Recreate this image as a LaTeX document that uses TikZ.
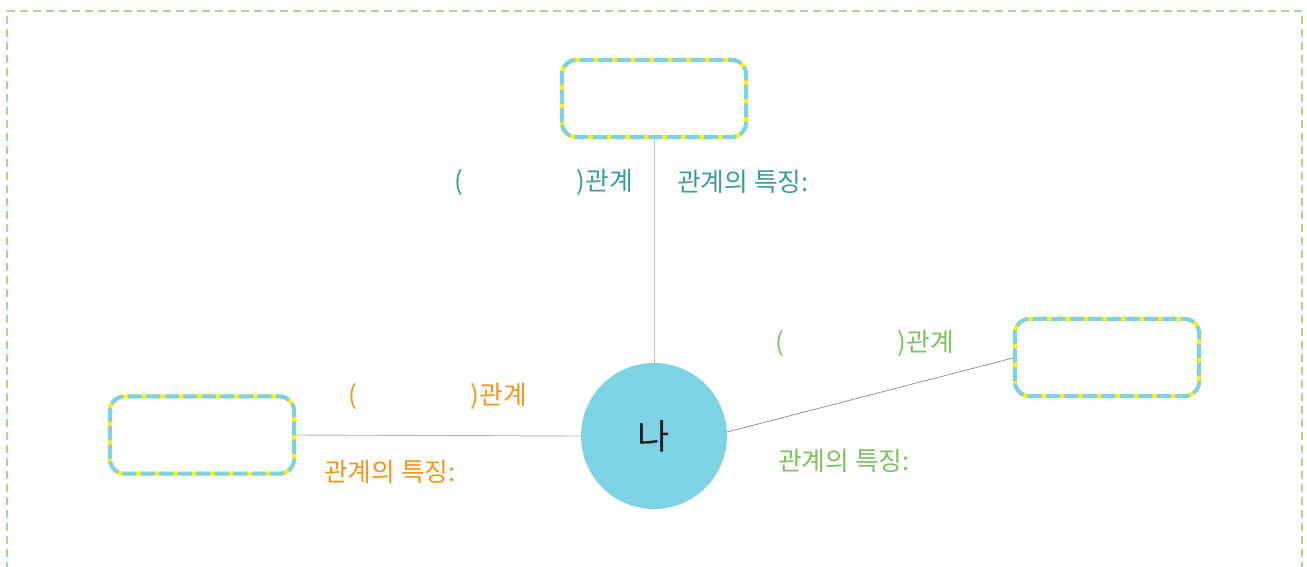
\documentclass[tikz,border=0pt]{standalone}
\usepackage{fontspec}
\setmainfont{Noto Sans CJK KR}
\definecolor{tealtxt}{HTML}{3A9E9E}
\definecolor{orangetxt}{HTML}{F7941D}
\definecolor{greentxt}{HTML}{7DC25C}
\definecolor{boxblue}{HTML}{7DD3E3}
\definecolor{boxyellow}{HTML}{FFF200}
\definecolor{framegreen}{HTML}{A8D78D}
\tikzset{
  txt/.style={inner sep=0pt, anchor=west, font=\fontsize{25.8}{28}\selectfont},
  relbox/.style={draw=none, minimum width=184pt, minimum height=77pt, rounded corners=15pt},
  conn/.style={line width=0.9pt},
}
\begin{document}
\begin{tikzpicture}[x=1pt,y=-1pt]
\useasboundingbox (0,0) rectangle (1307,566);
% frame
\draw[framegreen, line width=2.2pt, dash pattern=on 8pt off 5pt] (7,570) -- (7,11) -- (1302,11) -- (1302,570);
% center
\node[circle, fill=boxblue, minimum size=146pt, inner sep=0pt, font=\fontsize{35}{38}\selectfont, text=black!88] (me) at (654,436) {나};
% boxes
\node[relbox] (top) at (654,98.5) {};
\node[relbox] (left) at (202,435) {};
\node[relbox] (right) at (1107,357.5) {};
% connectors
\draw[conn, draw=black!25] (top.south) -- (me.north);
\draw[conn, draw=black!30] (left.east) -- (me.west);
\coordinate (mr) at (me.east |- 0,432);
\draw[conn, draw=black!45, line width=0.7pt] (mr) -- (right.west);
% box outlines
\foreach \b in {top,left,right}{
  \draw[boxyellow, line width=4pt, rounded corners=15pt] (\b.south west) rectangle (\b.north east);
  \draw[boxblue, line width=4pt, rounded corners=15pt, dash pattern=on 14pt off 4.5pt] (\b.south west) rectangle (\b.north east);
}
% labels
\node[txt, text=tealtxt] (t1) at (454,182) {(\hspace{114pt})관계};
\node[txt, text=tealtxt] (t2) at (677,182) {관계의 특징:};
\node[txt, text=orangetxt] (o1) at (348,396) {(\hspace{114pt})관계};
\node[txt, text=orangetxt] (o2) at (324,472) {관계의 특징:};
\node[txt, text=greentxt] (g1) at (775,343) {(\hspace{114pt})관계};
\node[txt, text=greentxt] (g2) at (778,461) {관계의 특징:};
\end{tikzpicture}
\end{document}
